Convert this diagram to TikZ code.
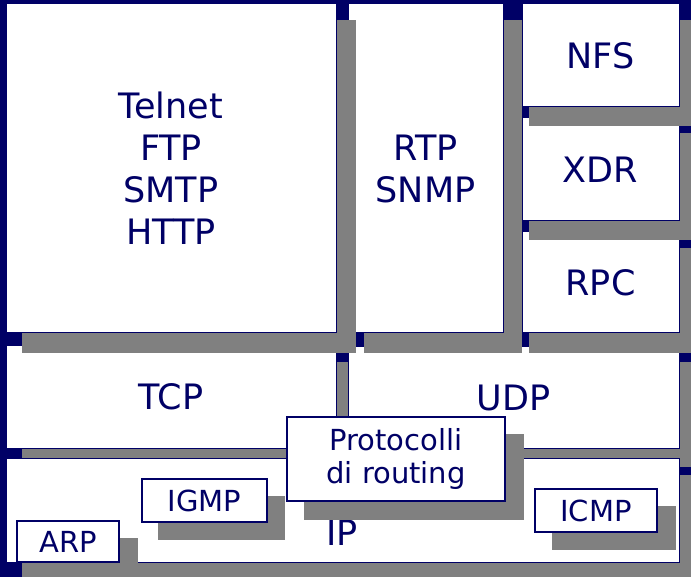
\documentclass[tikz,border=0pt]{standalone}
\usepackage{fontspec}
\setmainfont{DejaVu Sans}
\definecolor{navy}{RGB}{0,0,102}
\definecolor{shadowgrey}{RGB}{128,128,128}
\tikzset{
  layer/.style={draw=navy, line width=1pt, fill=white, inner sep=0pt, align=center,
    text=navy, font=\fontsize{35}{42}\selectfont},
  proto/.style={layer, line width=1.5pt, font=\fontsize{29}{33}\selectfont},
  dropshadow/.style={fill=shadowgrey}
}
\begin{document}
\begin{tikzpicture}[x=1pt, y=-1pt]
  \fill[navy] (0,0) rectangle (691,577);
  \useasboundingbox (0,0) rectangle (691,577);
  \fill[dropshadow] (22,362) rectangle (356,467);
  \node[layer, minimum width=330pt, minimum height=102pt] (tcp) at (171,397) {TCP};
  \fill[dropshadow] (364,362) rectangle (698,467);
  \node[layer, minimum width=331pt, minimum height=101pt] (udp) at (513.5,397.5) {UDP};
  \fill[dropshadow] (22,475) rectangle (698,580);
  \node[layer, minimum width=673pt, minimum height=104pt] (ip) at (342.5,510) {};
  \fill[dropshadow] (529,248) rectangle (698,353);
  \node[layer, minimum width=157pt, minimum height=101pt] (rpc) at (600.5,282.5) {RPC};
  \fill[dropshadow] (529,133) rectangle (698,240);
  \node[layer, minimum width=157pt, minimum height=103pt] (xdr) at (600.5,169.5) {XDR};
  \fill[dropshadow] (529,20) rectangle (698,126);
  \node[layer, minimum width=157pt, minimum height=103pt] (nfs) at (600.5,55.5) {NFS};
  \fill[dropshadow] (364,20) rectangle (522,353);
  \node[layer, minimum width=155pt, minimum height=329pt] (rtp) at (425.5,168.5) {RTP\\SNMP};
  \fill[dropshadow] (22,20) rectangle (356,353);
  \node[layer, minimum width=330pt, minimum height=329pt] (apps) at (171,168.5) {Telnet\\FTP\\SMTP\\HTTP};
  \node[text=navy, font=\fontsize{35}{42}\selectfont] (iplabel) at (342,533) {IP};
  \fill[dropshadow] (158,496) rectangle (285,540);
  \node[proto, minimum width=125pt, minimum height=43pt] (igmp) at (204.5,500.5) {IGMP};
  \fill[dropshadow] (33,538) rectangle (138,580);
  \node[proto, minimum width=102pt, minimum height=41pt] (arp) at (68,541.5) {ARP};
  \fill[dropshadow] (552,506) rectangle (676,550);
  \node[proto, minimum width=122pt, minimum height=43pt] (icmp) at (596,510.5) {ICMP};
  \fill[dropshadow] (304,434) rectangle (524,520);
  \node[proto, minimum width=218pt, minimum height=84pt] (routing) at (396,459) {Protocolli\\di routing};
\end{tikzpicture}
\end{document}
